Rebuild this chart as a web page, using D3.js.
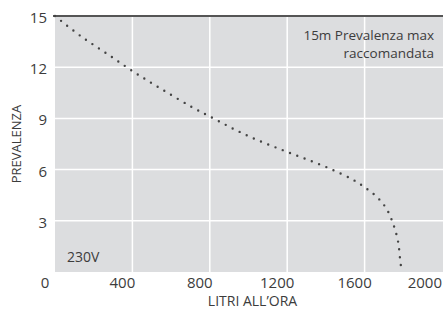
<!DOCTYPE html>
<html><head><meta charset="utf-8">
<script src="https://cdn.jsdelivr.net/npm/d3@7"></script>
<style>html,body{margin:0;padding:0;background:#fff;}svg{display:block;}</style>
</head><body>
<script>
// Data
const flowLph = [0, 132, 271, 408, 553, 710, 826, 941, 1059, 1179, 1292, 1414, 1533, 1606, 1673, 1717, 1751, 1773, 1783, 1788];
const headM   = [15, 13.83, 12.77, 11.72, 10.70, 9.65, 8.96, 8.28, 7.67, 7.13, 6.64, 6.09, 5.45, 4.92, 4.29, 3.63, 2.71, 1.78, 0.80, 0.33];
const xTicks = [0, 400, 800, 1200, 1600, 2000];
const yTicks = [3, 6, 9, 12, 15];
const xTitle = "LITRI ALL’ORA";
const yTitle = "PREVALENZA";
const noteLines = ["15m Prevalenza max", "raccomandata"];
const voltage = "230V";

const W = 443, H = 311;
const m = {l: 55, t: 16, r: 1, b: 39};
const font = "'Open Sans', sans-serif";
const txt = "#3c3c3c";

const svg = d3.select("body").append("svg").attr("width", W).attr("height", H)
  .style("font-family", font);

const x = d3.scaleLinear().domain([0, 2000]).range([m.l, W - m.r]);
const y = d3.scaleLinear().domain([0, 15]).range([H - m.b, m.t]);

// background
svg.append("rect").attr("x", x(0)).attr("y", y(15)).attr("width", x(2000) - x(0) + 1)
  .attr("height", y(0) - y(15)).attr("fill", "#dcdddf");

// grid
svg.append("g").selectAll("line").data(xTicks.filter(d => d > 0 && d < 2000)).join("line")
  .attr("x1", d => x(d)).attr("x2", d => x(d)).attr("y1", y(15)).attr("y2", y(0))
  .attr("stroke", "#fff").attr("stroke-width", 1.5);
svg.append("g").selectAll("line").data(yTicks.filter(d => d < 15)).join("line")
  .attr("x1", x(0)).attr("x2", x(2000) + 1).attr("y1", d => y(d)).attr("y2", d => y(d))
  .attr("stroke", "#fff").attr("stroke-width", 1.5);

// top line
svg.append("line").attr("x1", x(0) - 2).attr("x2", W).attr("y1", y(15)).attr("y2", y(15))
  .attr("stroke", "#555").attr("stroke-width", 2);

// y tick labels
svg.append("g").selectAll("text").data(yTicks).join("text")
  .attr("x", x(0) - 8).attr("y", d => y(d) + 7)
  .attr("text-anchor", "end").attr("font-size", 15).attr("fill", txt)
  .text(d => d);

// x tick labels
svg.append("g").selectAll("text").data(xTicks).join("text")
  .attr("x", d => d === 2000 ? W - 1 : x(d) - 10).attr("y", y(0) + 16)
  .attr("text-anchor", d => d === 2000 ? "end" : "middle").attr("font-size", 15).attr("fill", txt)
  .text(d => d);

// axis titles
svg.append("text").attr("x", (x(0) + x(2000)) / 2 + 4).attr("y", H - 5)
  .attr("text-anchor", "middle").attr("font-size", 14).attr("fill", txt).text(xTitle);
svg.append("text").attr("transform", `translate(21,${(y(0) + y(15)) / 2}) rotate(-90)`)
  .attr("text-anchor", "middle").attr("font-size", 13).attr("fill", txt).text(yTitle);

// annotations
svg.append("g").selectAll("text").data(noteLines).join("text")
  .attr("x", W - 9).attr("y", (d, i) => 40 + i * 18)
  .attr("text-anchor", "end").attr("font-size", 13.5).attr("fill", txt).text(d => d);
svg.append("text").attr("x", x(0) + 12).attr("y", y(0) - 10)
  .attr("font-size", 14).attr("fill", txt).text(voltage);

// dotted curve
const pts = flowLph.map((f, i) => [f, headM[i]]);
svg.append("path").datum(pts)
  .attr("d", d3.line().x(d => x(d[0])).y(d => y(d[1])).curve(d3.curveCatmullRom))
  .attr("fill", "none").attr("stroke", "#444").attr("stroke-width", 2.4)
  .attr("stroke-linecap", "round").attr("stroke-dasharray", "0 7.8");
</script>
</body></html>
